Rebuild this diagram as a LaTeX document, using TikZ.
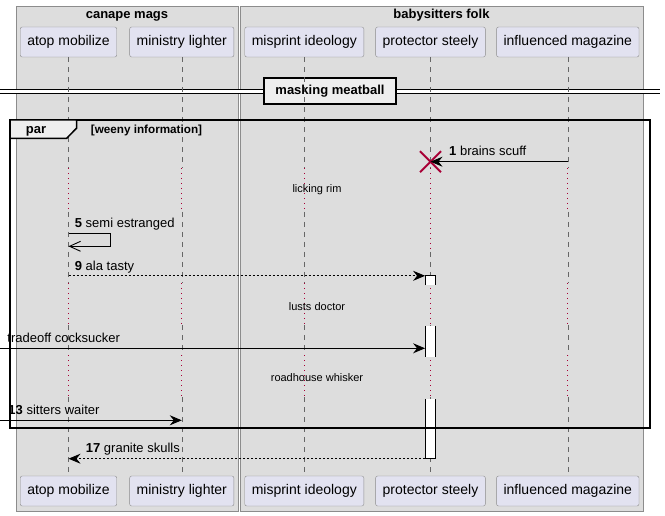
\documentclass[tikz,border=0pt]{standalone}
\usepackage{fontspec}
\setmainfont{Liberation Sans}
\usepackage{tikz}
\usetikzlibrary{arrows.meta,shapes.misc}
\definecolor{grpfill}{HTML}{DDDDDD}
\definecolor{partfill}{HTML}{E2E2F0}
\definecolor{tabfill}{HTML}{EEEEEE}
\definecolor{killred}{HTML}{A80036}
\def\pfont{\fontsize{14}{16}\selectfont}	% participant names
\def\mfont{\fontsize{13}{15}\selectfont}	% messages, titles
\def\dfont{\fontsize{11}{13}\selectfont}	% delays
\def\gfont{\fontsize{11.7}{13}\selectfont}	% guard

\begin{document}
\begin{tikzpicture}[x=1pt,y=-1pt,
	grp/.style={draw=black!45,fill=grpfill},
	part/.style={draw=black!45,fill=partfill,rounded corners=2pt,minimum height=30pt,inner xsep=7pt,font=\pfont},
	life/.style={black!60,dash pattern=on 5pt off 5pt},
	dly/.style={killred,line width=1pt,dash pattern=on 1pt off 4pt},
	msg/.style={line width=0.9pt,-{Stealth[length=12pt,width=10pt,inset=4pt]}},
	rmsg/.style={msg,dash pattern=on 2pt off 2pt},
	lbl/.style={anchor=base west,inner sep=0pt,font=\mfont},
	act/.style={fill=white,minimum width=10.4pt,inner sep=0pt},
	]
	\useasboundingbox (0,0) rectangle (665,516);
	\draw[grp] (16,6) rectangle (238.5,511.5);		%canape box
	\draw[grp] (240.5,6) rectangle (643,511.5);		%babysitters box
	\node[font=\bfseries\mfont,anchor=base] (gcanape) at (127,18.7) {canape mags};
	\node[font=\bfseries\mfont,anchor=base] (gbaby) at (441.5,18.7) {babysitters folk};
	
	% separator
	\coordinate (sepL) at (0,92);
	\coordinate (sepR) at (660,92);
	\draw[double,double distance=3pt,line width=1pt] (sepL) -- (sepR);
	\node[draw,line width=1.5pt,fill=tabfill,font=\bfseries\mfont,minimum width=132pt,minimum height=26pt] (sep) at (330,91) {masking meatball};
	
	% participants
	\foreach \n/\x/\t in {atop/68.5/atop mobilize, minis/181.8/ministry lighter, mispr/304.3/misprint ideology, prot/430.5/protector steely, influ/567.8/influenced magazine}{
		\node[part] (\n-top) at (\x,42) {\t};
		\node[part] (\n-bot) at (\x,491) {\t};
	}
	% lifelines
	\foreach \n/\r in {atop/212,minis/212,mispr/212,prot/252,influ/212}{
		\draw[life] (\n-top.south) -- (\n-top.south |- 0,168);
		\draw[life] (\n-top.south |- 0,\r) -- (\n-top.south |- 0,283);
		\draw[life] (\n-top.south |- 0,325) -- (\n-top.south |- 0,355);
		\draw[life] (\n-top.south |- 0,397) -- (\n-bot.north);
		\draw[dly] (\n-top.south |- 0,168) -- (\n-top.south |- 0,\r);
		\draw[dly] (\n-top.south |- 0,283) -- (\n-top.south |- 0,325);
		\draw[dly] (\n-top.south |- 0,355) -- (\n-top.south |- 0,397);
	}
	
	% delays
	\node[font=\dfont] (d1) at (317,190) {licking rim};
	\node[font=\dfont] (d2) at (317,306.5) {lusts doctor};
	\node[font=\dfont] (d3) at (317,378) {roadhouse whisker};
	
	% activation of protector
	\node[act,minimum height=9pt] (act1) at (430.5,280.5) {};
	\node[act,minimum height=31pt] (act2) at (430.5,341.5) {};
	\node[act,minimum height=59.5pt] (act3) at (430.5,428.75) {};
	\draw[line width=1pt] (act1.south west) -- (act1.north west) -- (act1.north east) -- (act1.south east);
	\draw[line width=1pt] (act2.north west) -- (act2.south west) (act2.north east) -- (act2.south east);
	\draw[line width=1pt] (act3.north west) -- (act3.south west) -- (act3.south east) -- (act3.north east);
	
	% messages
	\node[cross out,draw=killred,line width=2pt,minimum size=19pt,inner sep=0pt] (kill) at (prot-top.south |- 0,161.7) {};
	\draw[msg] (influ-top.south |- kill) -- (kill.center);
	\node[lbl] (m1) at (449,156) {\textbf{1} brains scuff};
	
	\coordinate (s5) at (atop-top.south |- 0,233.3);
	\draw[line width=0.9pt,-{Straight Barb[length=11pt,width=10pt]}] (s5) -- ++(42,0) -- ++(0,13) -- ++(-42,0);
	\node[lbl] (m5) at (74.7,227.8) {\textbf{5} semi estranged};
	
	\draw[rmsg] (atop-top.south |- act1.north) -- (act1.north west);
	\node[lbl] (m9) at (74.7,270.8) {\textbf{9} ala tasty};
	
	\coordinate (in1) at (0,348.3);
	\draw[msg] (in1) -- (act2.west |- in1);
	\node[lbl] (mt) at (7.3,342.8) {tradeoff cocksucker};
	
	\coordinate (in2) at (0,420.3);
	\draw[msg] (in2) -- (minis-top.south |- in2);
	\node[lbl] (m13) at (8.3,414.8) {\textbf{13} sitters waiter};
	
	\draw[rmsg] (act3.south west) -- (atop-top.south |- act3.south);
	\node[lbl] (m17) at (85.7,452.8) {\textbf{17} granite skulls};
	
	% par frame
	\draw[line width=1.5pt] (10,120) rectangle (650,428);
	\draw[line width=1.5pt,fill=tabfill] (10,120) -- (76.7,120) -- (76.7,128) -- (66.7,138.3) -- (10,138.3) -- cycle;
	\node[font=\bfseries\mfont,anchor=base] (par) at (36,133.3) {par};
	\node[font=\bfseries\gfont,anchor=base west,inner sep=0pt] (guard) at (90.7,133.3) {[weeny information]};
\end{tikzpicture}
\end{document}
